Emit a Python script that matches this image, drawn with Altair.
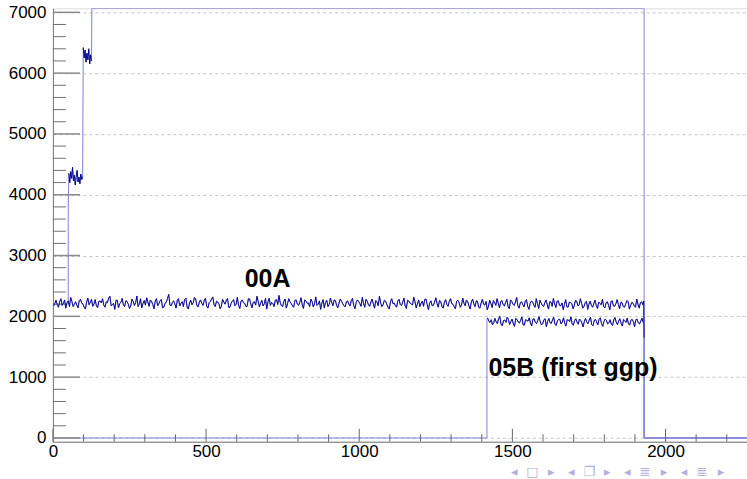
import altair as alt
import pandas as pd

# ---------------- data ----------------
X_MAX = 2266
Y_MIN = -62
Y_MAX = 7066

# series A ("00A"): ~2220 level; bins at x = 2, 6, 10, ... (even list at 2+8i, odd list at 6+8i)
A_even = [
    2170, 2265, 2150, 2290, 2215, 2135, 2255, 2310, 2160, 2240, 2140, 2280, 2205, 2120, 2300, 2230, 2165, 2275, 2145, 2250,
    2290, 2150, 2225, 2330, 2190, 2115, 2265, 2210, 2295, 2160, 2245, 2130, 2285, 2180, 2335, 2200, 2140, 2260, 2305, 2165,
    2245, 2125, 2290, 2210, 2275, 2150, 2230, 2360, 2175, 2255, 2135, 2290, 2215, 2160, 2300, 2120, 2265, 2225, 2285, 2155,
    2270, 2180, 2300, 2135, 2245, 2320, 2160, 2235, 2125, 2280, 2200, 2295, 2150, 2255, 2175, 2310, 2130, 2270, 2215, 2165,
    2285, 2140, 2240, 2330, 2155, 2265, 2205, 2120, 2295, 2230, 2160, 2275, 2345, 2175, 2250, 2135, 2290, 2210, 2150, 2270,
    2180, 2305, 2130, 2255, 2220, 2285, 2155, 2320, 2200, 2115, 2275, 2230, 2160, 2300, 2175, 2260, 2140, 2285, 2210, 2155,
    2255, 2170, 2295, 2125, 2270, 2210, 2310, 2150, 2250, 2165, 2285, 2135, 2235, 2330, 2160, 2265, 2200, 2120, 2290, 2220,
    2150, 2280, 2175, 2300, 2130, 2250, 2205, 2315, 2140, 2270, 2215, 2165, 2285, 2110, 2255, 2180, 2305, 2150, 2245, 2135,
    2275, 2165, 2290, 2200, 2125, 2265, 2150, 2300, 2175, 2240, 2120, 2285, 2160, 2250, 2135, 2280, 2185, 2105, 2265, 2145,
    2230, 2290, 2140, 2260, 2170, 2280, 2125, 2245, 2180, 2310, 2135, 2240, 2155, 2275, 2115, 2250, 2185, 2290, 2130, 2220,
    2160, 2270, 2120, 2235, 2295, 2145, 2255, 2175, 2110, 2275, 2150, 2225, 2125, 2265, 2170, 2290, 2135, 2230, 2115, 2250,
    2150, 2265, 2130, 2210, 2280, 2140, 2240, 2105, 2255, 2165, 2275, 2125, 2225, 2150, 2260, 2120, 2230, 2170, 2285, 2135,
    2240,
]
A_odd = [
    2210, 2195, 2240, 2180, 2270, 2225, 2160, 2245, 2200, 2185, 2260, 2215, 2150, 2235, 2190, 2280, 2205, 2170, 2250, 2220,
    2185, 2240, 2300, 2175, 2215, 2265, 2140, 2230, 2190, 2255, 2200, 2170, 2245, 2225, 2160, 2290, 2210, 2185, 2235, 2270,
    2195, 2250, 2175, 2260, 2140, 2215, 2295, 2185, 2230, 2205, 2265, 2170, 2240, 2280, 2155, 2220, 2190, 2310, 2175, 2235,
    2215, 2260, 2165, 2225, 2285, 2190, 2250, 2205, 2170, 2235, 2260, 2145, 2215, 2275, 2200, 2180, 2245, 2225, 2160, 2290,
    2205, 2230, 2185, 2250, 2215, 2170, 2295, 2240, 2180, 2210, 2265, 2195, 2225, 2160, 2285, 2210, 2240, 2175, 2260, 2200,
    2235, 2190, 2270, 2215, 2160, 2245, 2205, 2180, 2255, 2220, 2140, 2265, 2195, 2230, 2270, 2185, 2215, 2250, 2175, 2240,
    2200, 2260, 2180, 2225, 2245, 2165, 2215, 2280, 2190, 2235, 2205, 2260, 2175, 2220, 2190, 2250, 2150, 2240, 2210, 2175,
    2255, 2195, 2235, 2170, 2265, 2215, 2185, 2240, 2205, 2160, 2250, 2280, 2190, 2220, 2175, 2235, 2210, 2260, 2165, 2230,
    2195, 2245, 2210, 2160, 2250, 2225, 2185, 2215, 2270, 2175, 2235, 2205, 2255, 2150, 2220, 2200, 2245, 2170, 2210, 2260,
    2180, 2215, 2245, 2190, 2230, 2160, 2270, 2200, 2235, 2175, 2225, 2195, 2250, 2165, 2215, 2240, 2150, 2205, 2265, 2180,
    2225, 2190, 2240, 2165, 2205, 2250, 2180, 2220, 2195, 2155, 2235, 2210, 2175, 2250, 2190, 2215, 2165, 2245, 2200, 2180,
    2215, 2175, 2235, 2190, 2160, 2225, 2185, 2245, 2170, 2210, 2195, 2230, 2160, 2205, 2240, 2180, 2215, 2150, 2200, 2225,
    2190,
]
A_head = [(0, 790), (0, 2200)]
A_tail = [(1929, 2250), (1930, 1650)]
A_after = [(1930, 0), (X_MAX, 0)]

# series B ("05B (first ggp)"): 0 until ~1417, then ~1920 level; bins at 1419+8i and 1423+8i
B_even = [
    1975, 1900, 1860, 1965, 1880, 2000, 1845, 1940, 1985, 1865, 1955, 1835, 1950, 1890, 1990, 1855, 1935, 1975, 1840, 1960,
    1880, 1995, 1860, 1945, 1830, 1965, 1885, 1985, 1850, 1950, 1875, 1975, 1840, 1940, 1990, 1855, 1960, 1870, 1935, 1825,
    1965, 1880, 1985, 1845, 1950, 1860, 1975, 1835, 1955, 1875, 1945, 1850, 1980, 1865, 1960, 1840, 1930, 1970, 1855, 1950,
    1830, 1955, 1875, 1970,
]
B_odd = [
    1920, 1945, 1895, 1910, 1960, 1870, 1930, 1900, 1950, 1915, 1880, 1965, 1905, 1935, 1860, 1945, 1920, 1890, 1955, 1900,
    1935, 1910, 1880, 1960, 1915, 1895, 1940, 1870, 1925, 1950, 1905, 1885, 1945, 1915, 1875, 1930, 1905, 1955, 1890, 1920,
    1900, 1940, 1865, 1925, 1910, 1950, 1880, 1915, 1935, 1895, 1870, 1940, 1905, 1925, 1885, 1950, 1900, 1880, 1935, 1910,
    1945, 1895, 1920, 1900,
]
B_head = [(0, 0), (1417, 0), (1417, 1950)]
B_after = [(1930, 1880), (1930, 0), (X_MAX, 0)]

# series C: steps ~4300, ~6300, then above the frame until ~1930
C_head = [(50, 2200), (50, 3800)]
C1_start, C1_step = 52, 3
C1_noise = [4350, 4200, 4380, 4270, 4450, 4230, 4320, 4160, 4300, 4400, 4210, 4290, 4180, 4340, 4250, 4300]
C2_start, C2_step = 99, 3
C2_noise = [6420, 6250, 6380, 6180, 6330, 6220, 6400, 6150, 6300, 6200]
C_after = [(127, 7500), (1930, 7500), (1930, 0), (X_MAX, 0)]

labels = [("00A", 626, 2475), ("05B (first ggp)", 1422, 1014)]

y_major = [0, 1000, 2000, 3000, 4000, 5000, 6000, 7000]
y_minor = [v for v in range(200, 7001, 200) if v % 1000 != 0]
x_major = [0, 500, 1000, 1500, 2000]
x_minor = [v for v in range(100, 2201, 100) if v % 500 != 0]

# ---------------- build table ----------------
rows = []
def add(series, seg, pts):
    for (x, y) in pts:
        rows.append({"series": series, "seg": seg, "x": x, "y": y, "o": len(rows)})

def interleave(start, even, odd):
    pts = [(start + 8 * i, v) for i, v in enumerate(even)] + [(start + 4 + 8 * i, v) for i, v in enumerate(odd)]
    return sorted(pts)

A_pts = interleave(2, A_even, A_odd)
B_pts = interleave(1419, B_even, B_odd)
C1_pts = [(C1_start + C1_step * i, v) for i, v in enumerate(C1_noise)]
C2_pts = [(C2_start + C2_step * i, v) for i, v in enumerate(C2_noise)]

add("A", "A_edge", A_head)
add("A", "A_n", A_pts + A_tail)
add("A", "A_edge", A_after)
add("B", "B_edge", B_head)
add("B", "B_n", B_pts)
add("B", "B_edge", B_after)
add("C", "C_edge", C_head)
add("C", "C1_n", C1_pts)
add("C", "C2_n", C2_pts)
add("C", "C_edge", C_after)
df = pd.DataFrame(rows)
noise_df = df[df["seg"].str.endswith("_n")]

W, H = 695, 434
xs = alt.Scale(domain=[0, X_MAX], nice=False, zero=False)
ys = alt.Scale(domain=[Y_MIN, Y_MAX], nice=False, zero=False, clamp=True)

FONT = "Liberation Sans"

XA = alt.Axis(values=x_major, format="d", ticks=False, grid=False, domainColor="#777777",
              labelFont=FONT, labelFontSize=17, labelColor="#000000", labelPadding=2,
              title=None, labelFlush=False)
YA = alt.Axis(values=y_major, format="d", ticks=False, grid=True, gridDash=[3, 3], gridColor="#c4c4c4",
              domainColor="#777777", labelFont=FONT, labelFontSize=17, labelColor="#000000",
              labelPadding=7, title=None)

light = alt.Chart(df).mark_line(color="#8080d8", strokeWidth=1, clip=True).encode(
    x=alt.X("x:Q", scale=xs, axis=XA),
    y=alt.Y("y:Q", scale=ys, axis=YA),
    detail="series:N",
    order="o:Q",
)

dark = alt.Chart(noise_df).mark_line(color="#00008a", strokeWidth=0.9, clip=True).encode(
    x=alt.X("x:Q", scale=xs, axis=XA),
    y=alt.Y("y:Q", scale=ys, axis=YA),
    detail="seg:N",
    order="o:Q",
)

ymaj = alt.Chart(pd.DataFrame({"v": y_major})).mark_rule(color="#8a8a8a", strokeWidth=1.5).encode(
    y=alt.Y("v:Q", scale=ys, axis=YA), x=alt.value(0), x2=alt.value(27))
ymin = alt.Chart(pd.DataFrame({"v": y_minor})).mark_rule(color="#707070", strokeWidth=1).encode(
    y=alt.Y("v:Q", scale=ys, axis=YA), x=alt.value(0), x2=alt.value(13))
xmaj = alt.Chart(pd.DataFrame({"v": x_major})).mark_rule(color="#666666", strokeWidth=1).encode(
    x=alt.X("v:Q", scale=xs, axis=XA), y=alt.value(H), y2=alt.value(H - 13))
xmin = alt.Chart(pd.DataFrame({"v": x_minor})).mark_rule(color="#666666", strokeWidth=1).encode(
    x=alt.X("v:Q", scale=xs, axis=XA), y=alt.value(H), y2=alt.value(H - 7.5))

lab_df = pd.DataFrame(labels, columns=["t", "x", "y"])
texts = alt.Chart(lab_df).mark_text(font=FONT, fontSize=25, fontWeight="bold", align="left",
                                    baseline="alphabetic", color="#000000").encode(
    x=alt.X("x:Q", scale=xs, axis=XA), y=alt.Y("y:Q", scale=ys, axis=YA), text="t:N")

# beamer navigation symbols (decoration)
nav_glyphs = ["◂", "□", "▸", "◂", "❐", "▸", "◂", "≣", "▸", "◂", "≣", "▸"]
nav_px = [462, 480, 499, 519, 537, 555, 575, 593, 612, 632, 650, 669]
nav_df = pd.DataFrame({"g": nav_glyphs, "px": nav_px})
nav = alt.Chart(nav_df).mark_text(font="DejaVu Sans", fontSize=13, color="#b0b0d8",
                                  align="center", baseline="middle").encode(
    x=alt.X("px:Q", scale=None), y=alt.value(464), text="g:N")

chart = alt.layer(light, ymaj, ymin, xmaj, xmin, dark, texts, nav).properties(
    width=W, height=H,
    padding={"left": 53, "top": 8, "right": 0, "bottom": 37},
    autosize="none",
).configure_view(stroke="#888888", strokeWidth=1).configure(background="white")

chart.save("out.html", embed_options={"renderer": "svg", "actions": False})
